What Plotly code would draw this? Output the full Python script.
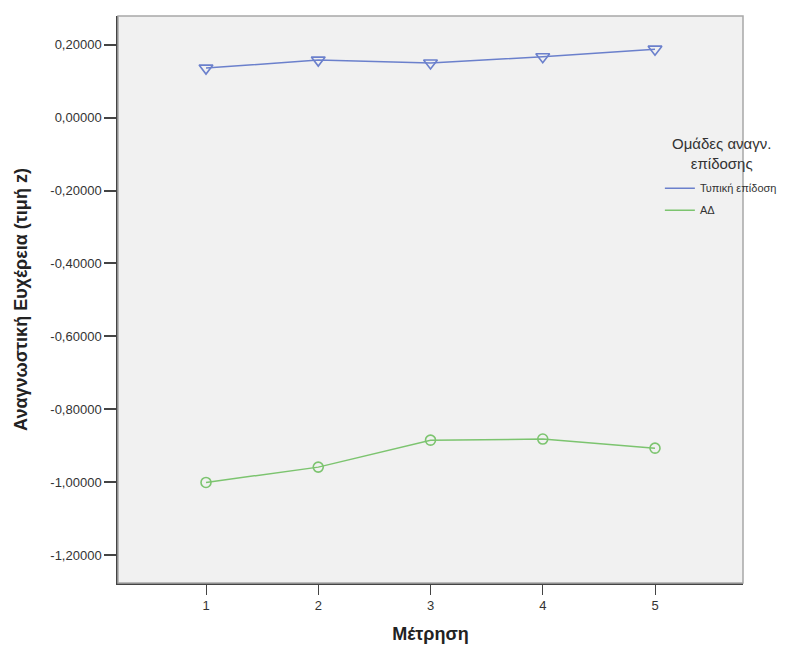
import plotly.graph_objects as go

measurements = [1, 2, 3, 4, 5]
typical = [0.136, 0.158, 0.150, 0.167, 0.188]
ad = [-1.001, -0.959, -0.885, -0.882, -0.907]
series_names = ["Τυπική επίδοση", "ΑΔ"]
legend_title = "Ομάδες αναγν.<br>επίδοσης"
y_ticks = [0.2, 0.0, -0.2, -0.4, -0.6, -0.8, -1.0, -1.2]
y_ticktext = [f"{v:.5f}".replace(".", ",") for v in y_ticks]

blue = "#6b80cc"
green = "#7cc46f"

fig = go.Figure()
fig.add_trace(go.Scatter(x=measurements, y=typical, mode="lines+markers",
                         line=dict(color=blue, width=1.5),
                         marker=dict(symbol="triangle-down-open", size=12, color=blue, line=dict(width=1.6)),
                         showlegend=False))
fig.add_trace(go.Scatter(x=measurements, y=ad, mode="lines+markers",
                         line=dict(color=green, width=1.5),
                         marker=dict(symbol="circle-open", size=10, color=green, line=dict(width=1.6)),
                         showlegend=False))
for i, (name, col) in enumerate(zip(series_names, [blue, green])):
    fig.add_trace(go.Scatter(x=[None], y=[None], mode="lines", name=name, legendgroup=f"g{i}",
                             line=dict(color=col, width=1.5)))

fig.add_shape(type="rect", xref="paper", yref="paper", x0=0, y0=0, x1=1, y1=1,
              line=dict(color="#a8a8a8", width=1.5), layer="above")

fig.add_annotation(text=legend_title, xref="paper", yref="paper", x=0.966, y=0.757,
                   xanchor="center", yanchor="middle", showarrow=False, align="center",
                   font=dict(size=15, color="#333333"))

fig.update_layout(
    width=806, height=651,
    margin=dict(l=110, r=71, t=8, b=76),
    paper_bgcolor="white", plot_bgcolor="#f1f1f1",
    font=dict(family="Liberation Sans, Arial, sans-serif", color="#333333"),
    legend=dict(x=0.867, y=0.722, xanchor="left", yanchor="top",
                bgcolor="rgba(0,0,0,0)", tracegroupgap=3,
                font=dict(size=11, color="#333333")),
    xaxis=dict(range=[0.216, 5.784], tickvals=measurements, ticktext=[str(m) for m in measurements],
               showgrid=False, zeroline=False, showline=True, linecolor="#444444", linewidth=1.5,
               ticks="outside", ticklen=10, tickcolor="#444444", tickwidth=1.2,
               tickfont=dict(size=13, color="#333333"),
               title=dict(text="<b>Μέτρηση</b>", font=dict(size=18, color="#222222"), standoff=15)),
    yaxis=dict(range=[-1.277, 0.279], tickvals=y_ticks, ticktext=y_ticktext,
               showgrid=False, zeroline=False, showline=True, linecolor="#444444", linewidth=1.5,
               ticks="outside", ticklen=12, tickcolor="#444444", tickwidth=1.5,
               tickfont=dict(size=13, color="#333333"),
               title=dict(text="<b>Αναγνωστική Ευχέρεια (τιμή z)</b>", font=dict(size=18, color="#222222"), standoff=18)),
)

fig.write_html("out.html")
